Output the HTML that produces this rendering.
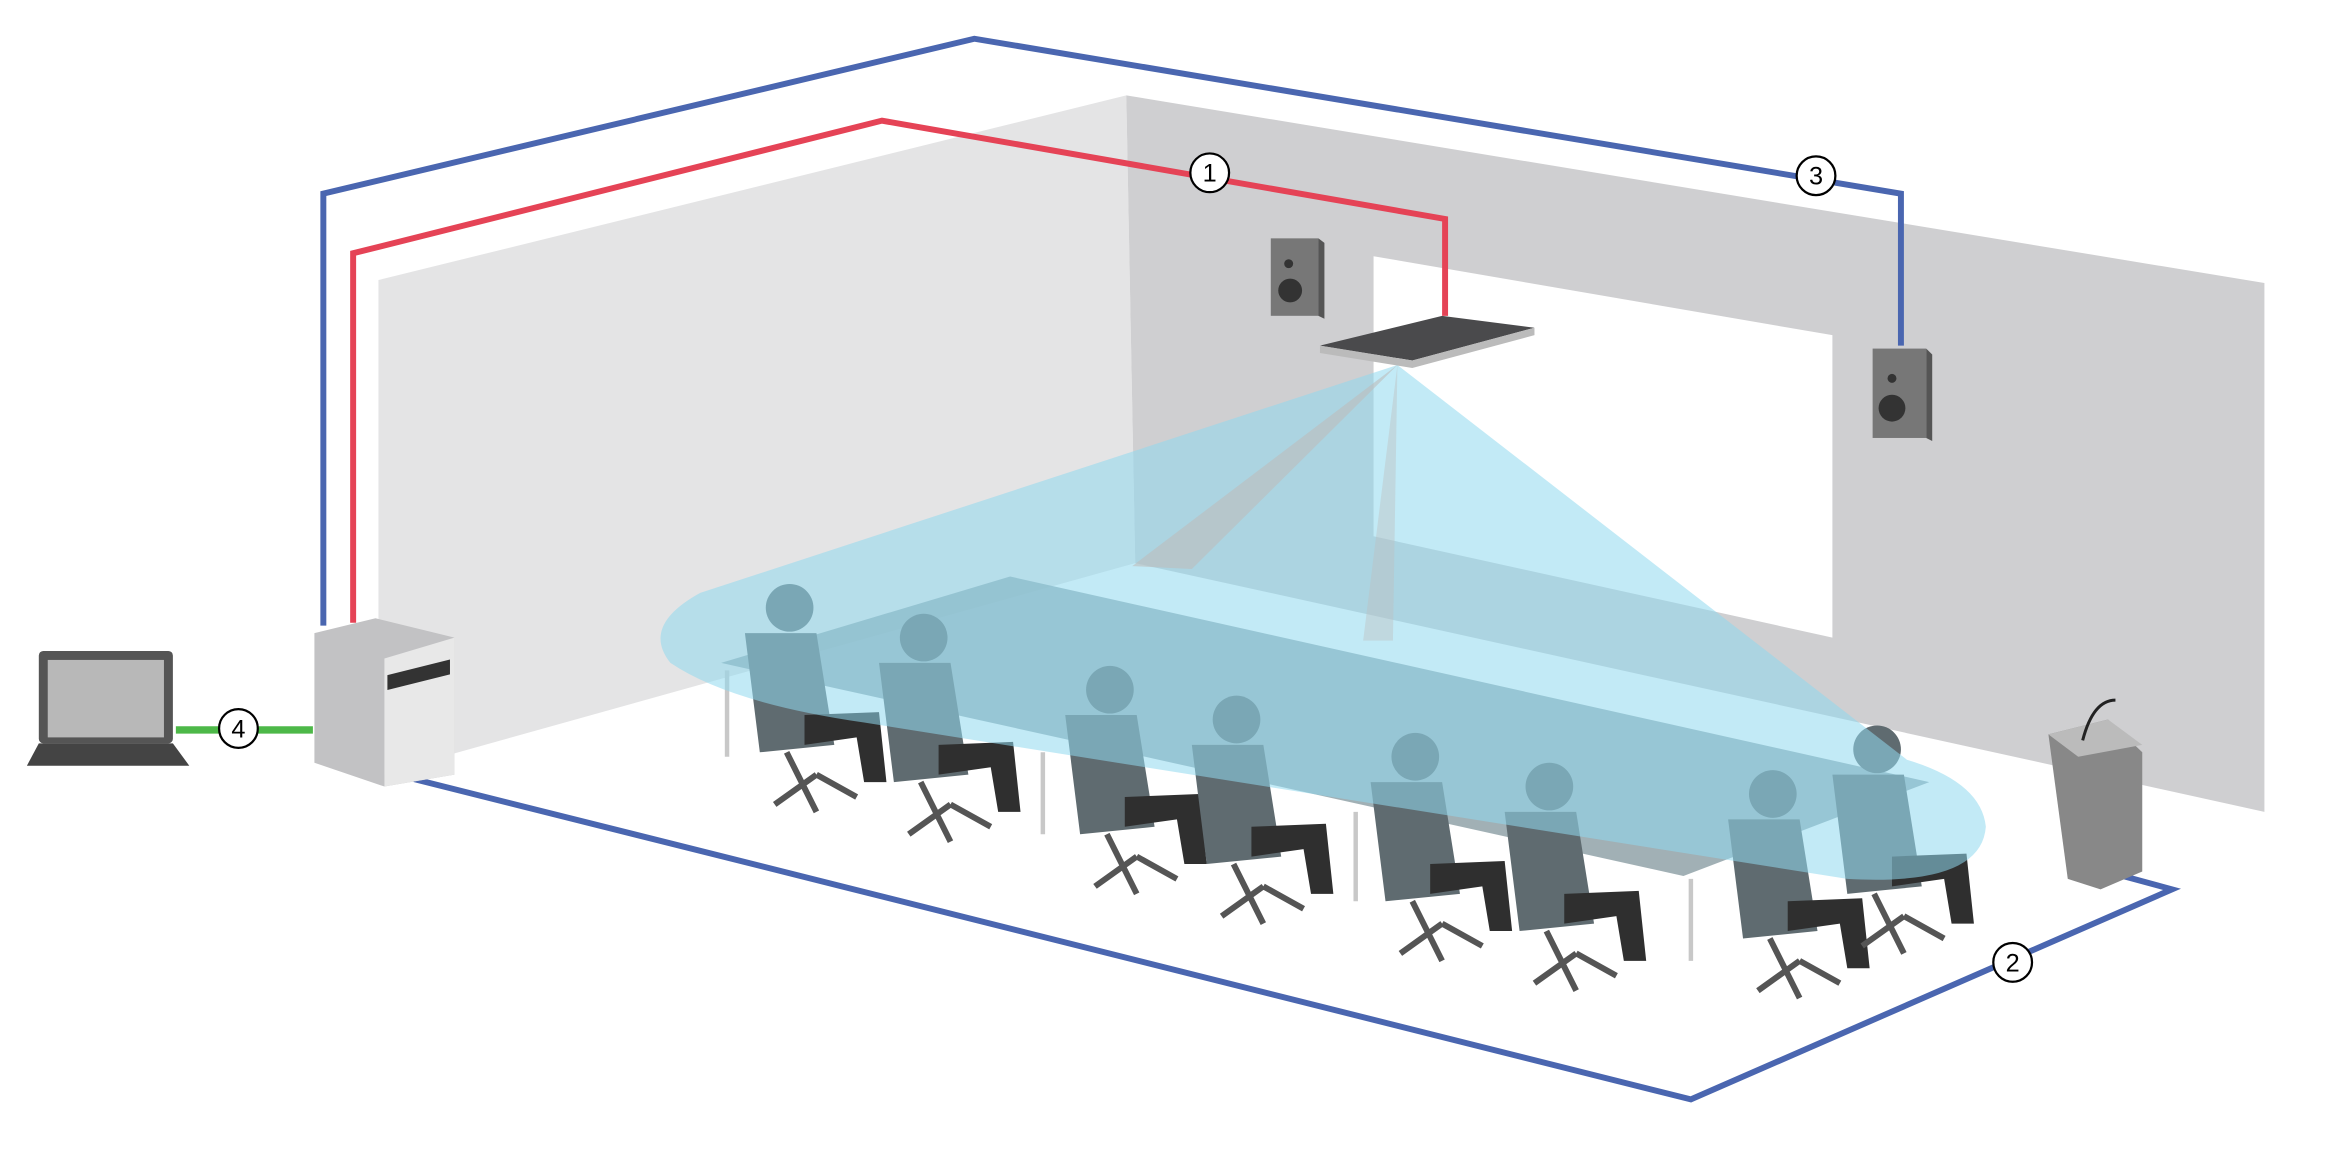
<!DOCTYPE html>
<html><head><meta charset="utf-8"><style>html,body{margin:0;padding:0;background:#fff}svg{display:block}</style></head>
<body>
<svg width="2336" height="1156" viewBox="0 0 1568 776" xmlns="http://www.w3.org/2000/svg" font-family="Liberation Sans, sans-serif">
<!-- walls -->
<polygon points="254,188 756,64 762,378 254,520" fill="#e4e4e5"/>
<polygon points="756,64 1520,190 1520,545 762,378" fill="#cfcfd1"/>
<polygon points="922,172 1230,225 1230,428 922,360" fill="#fff"/>
<!-- table -->
<polygon points="484,445 678,387 1295,525 1130,588" fill="#8a9ca2" opacity="0.8"/>
<g stroke="#c8c8c8" stroke-width="3">
<line x1="488" y1="450" x2="488" y2="508"/><line x1="700" y1="505" x2="700" y2="560"/>
<line x1="910" y1="545" x2="910" y2="605"/><line x1="1135" y1="590" x2="1135" y2="645"/>
</g>
<!-- people (simplified) -->
<g fill="#5f6b70">
<g id="p"><circle cx="530" cy="408" r="16"/><path d="M500,425 L548,425 L560,500 L510,505 Z"/><path d="M540,480 L590,478 L595,525 L580,525 L575,495 L540,500Z" fill="#2f2f2f"/><path d="M528,505 L548,545 M548,520 L520,540 M548,520 L575,535" stroke="#555" stroke-width="4"/></g>
<use href="#p" x="90" y="20"/><use href="#p" x="215" y="55"/><use href="#p" x="300" y="75"/>
<use href="#p" x="420" y="100"/><use href="#p" x="510" y="120"/><use href="#p" x="660" y="125"/><use href="#p" x="730" y="95"/>
</g>
<!-- beams -->
<g fill="#8fd8ef" opacity="0.55">
<path d="M938,245 L470,398 Q430,420 450,445 Q490,472 580,485 L1240,590 Q1330,595 1333,555 Q1330,525 1280,510 Z"/>
</g>
<polygon points="938,245 760,380 800,382" fill="#bdbdbd" opacity="0.6"/>
<polygon points="938,245 915,430 935,430" fill="#bdbdbd" opacity="0.4"/>
<!-- ceiling mic -->
<polygon points="886,232 968,212 1030,220 948,242" fill="#4a4a4c"/>
<polygon points="886,232 948,242 1030,220 1030,225 948,247 886,237" fill="#bbb"/>
<!-- speakers -->
<g><rect x="853" y="160" width="32" height="52" fill="#777"/><polygon points="885,160 889,163 889,214 885,212" fill="#555"/><circle cx="865" cy="177" r="3" fill="#333"/><circle cx="866" cy="195" r="8" fill="#333"/></g>
<g><rect x="1257" y="234" width="36" height="60" fill="#777"/><polygon points="1293,234 1297,238 1297,296 1293,294" fill="#555"/><circle cx="1270" cy="254" r="3" fill="#333"/><circle cx="1270" cy="274" r="9" fill="#333"/></g>
<!-- cables -->
<polyline points="217,420 217,130 654,26 1276,130 1276,232" fill="none" stroke="#4a66b0" stroke-width="4"/>
<polyline points="237,418 237,170 592,81 970,147 970,212" fill="none" stroke="#e54356" stroke-width="4"/>
<polyline points="278,523 1135,738 1458,597 1425,588" fill="none" stroke="#4a66b0" stroke-width="4"/>
<line x1="118" y1="490" x2="210" y2="490" stroke="#4db848" stroke-width="5"/>
<!-- cabinet -->
<polygon points="211,425 252,415 305,428 305,520 258,528 211,512" fill="#c2c2c4"/>
<polygon points="258,442 305,428 305,520 258,528" fill="#e8e8e8"/>
<rect x="260" y="448" width="42" height="10" fill="#333" transform="skewY(-14) translate(0,70)"/>
<!-- laptop -->
<rect x="26" y="437" width="90" height="62" rx="3" fill="#555"/>
<rect x="32" y="443" width="78" height="52" fill="#b8b8b8"/>
<polygon points="26,499 116,499 127,514 18,514" fill="#444"/>
<!-- lectern -->
<polygon points="1375,493 1415,483 1438,505 1438,585 1410,597 1388,590" fill="#888"/>
<polygon points="1375,493 1415,483 1438,500 1395,508" fill="#bbb"/>
<path d="M1398,497 Q1405,470 1420,470" stroke="#222" stroke-width="2" fill="none"/>
<!-- labels -->
<g font-size="17" text-anchor="middle">
<circle cx="812" cy="116" r="13" fill="#fff" stroke="#000" stroke-width="1.5"/><text x="812" y="122">1</text>
<circle cx="1351" cy="646" r="13" fill="#fff" stroke="#000" stroke-width="1.5"/><text x="1351" y="652">2</text>
<circle cx="1219" cy="118" r="13" fill="#fff" stroke="#000" stroke-width="1.5"/><text x="1219" y="124">3</text>
<circle cx="160" cy="489" r="13" fill="#fff" stroke="#000" stroke-width="1.5"/><text x="160" y="495">4</text>
</g>
</svg>
</body></html>
